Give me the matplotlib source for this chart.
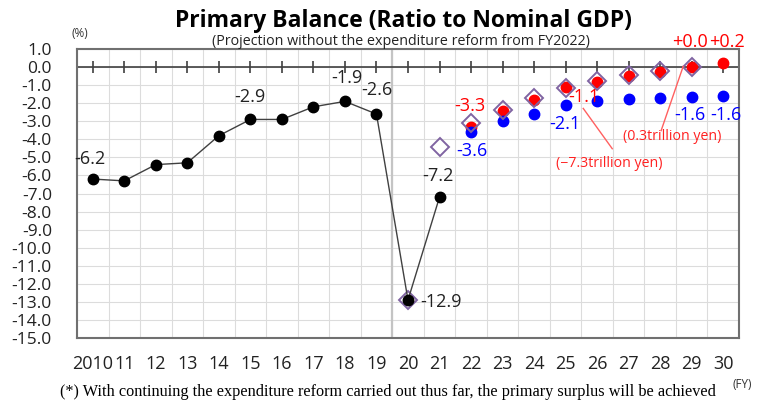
import matplotlib
matplotlib.use("Agg")
import matplotlib.pyplot as plt

plt.rcParams['font.family'] = ['Open Sans', 'DejaVu Sans']

# actual results FY2010-2021
years_act = [2010, 2011, 2012, 2013, 2014, 2015, 2016, 2017, 2018, 2019, 2020, 2021]
pb_act = [-6.2, -6.3, -5.4, -5.3, -3.8, -2.9, -2.9, -2.2, -1.9, -2.6, -12.9, -7.2]

# projection with previous estimate (hollow diamonds)
years_dia = [2020, 2021, 2022, 2023, 2024, 2025, 2026, 2027, 2028, 2029]
pb_dia = [-12.9, -4.4, -3.1, -2.4, -1.7, -1.15, -0.75, -0.45, -0.2, 0.0]

# projection, growth achieved scenario (red)
years_red = [2022, 2023, 2024, 2025, 2026, 2027, 2028, 2029, 2030]
pb_red = [-3.3, -2.45, -1.8, -1.1, -0.8, -0.5, -0.25, 0.0, 0.2]

# projection, baseline scenario (blue)
years_blue = [2022, 2023, 2024, 2025, 2026, 2027, 2028, 2029, 2030]
pb_blue = [-3.6, -3.0, -2.6, -2.1, -1.9, -1.75, -1.7, -1.65, -1.6]

year_labels = ["2010"] + [str(y % 100) for y in range(2011, 2031)]
yticks = list(range(1, -16, -1))

fig = plt.figure(figsize=(7.57, 4.05), dpi=100)
ax = fig.add_axes([0.1017, 0.1654, 0.8745, 0.7136])

ax.set_xlim(2009.5, 2030.5)
ax.set_ylim(-15, 1)

# grid
for y in yticks:
    ax.axhline(y, color='#dcdcdc', lw=0.8, zorder=0)
for x in range(2010, 2031):
    ax.axvline(x - 0.5, color='#dcdcdc', lw=0.8, zorder=0)
ax.axvline(2019.5, color='#c4c4c4', lw=1.6, zorder=0.5)

# zero line with year ticks
ax.axhline(0, color='#404040', lw=1.2, zorder=1)
ax.plot(range(2010, 2031), [0] * 21, ls='none', marker='|', ms=8,
        mew=1.2, color='#404040', zorder=1)

for s in ax.spines.values():
    s.set_color('#707070')
    s.set_linewidth(1.5)

ax.set_yticks(yticks)
ax.set_yticklabels(["%.1f" % v for v in yticks], fontsize=12.5, color='#222222')
ax.set_xticks(range(2010, 2031))
ax.set_xticklabels(year_labels, fontsize=13, color='#222222')
ax.get_xticklabels()[0].set_x(2009.8)
ax.tick_params(axis='y', length=0, pad=18)
ax.tick_params(axis='x', length=0, pad=12)

# series
ax.plot(years_act, pb_act, color='#404040', lw=1.0, marker='o', ms=7.5,
        mfc='black', mec='black', zorder=4)
ax.plot(years_red, pb_red, ls='none', marker='o', ms=7.5, color='#ff0000', zorder=3)
ax.plot(years_blue, pb_blue, ls='none', marker='o', ms=7.5, color='#0000ff', zorder=3)
ax.plot(years_dia, pb_dia, ls='none', marker='D', ms=9, mfc='none',
        mec='#8064a2', mew=1.4, zorder=3.5)

# value labels
lab = dict(fontsize=13, ha='center', va='center', clip_on=False, zorder=6)
ax.text(2009.9, -5.07, "-6.2", color='#222222', **lab)
ax.text(2014.98, -1.68, "-2.9", color='#222222', **lab)
ax.text(2018.06, -0.63, "-1.9", color='#222222', **lab)
ax.text(2019.0, -1.29, "-2.6", color='#222222', **lab)
ax.text(2020.95, -6.02, "-7.2", color='#222222', **lab)
ax.text(2020.4, -13.0, "-12.9", color='#222222', fontsize=13, ha='left',
        va='center')
ax.text(2021.97, -2.13, "-3.3", color='#ff0000', **lab)
ax.text(2025.59, -1.68, "-1.1", color='#ff0000', **lab)
ax.text(2028.95, 1.37, "+0.0", color='#ff0000', **lab)
ax.text(2030.13, 1.37, "+0.2", color='#ff0000', **lab)
ax.text(2022.03, -4.63, "-3.6", color='#0000ff', **lab)
ax.text(2024.98, -3.13, "-2.1", color='#0000ff', **lab)
ax.text(2028.95, -2.68, "-1.6", color='#0000ff', **lab)
ax.text(2030.1, -2.68, "-1.6", color='#0000ff', **lab)

# trillion yen callouts
ax.plot([2025.56, 2026.48], [-2.29, -4.52], color='#ff6060', lw=1.0, zorder=5)
ax.plot([2028.73, 2028.03], [0.04, -3.52], color='#ff6060', lw=1.0, zorder=5)
ax.text(2026.38, -5.36, "(\u22127.3trillion yen)", fontsize=10.2, color='#ff2020',
        ha='center', va='center')
ax.text(2028.38, -3.85, "(0.3trillion yen)", fontsize=10.2, color='#ff2020',
        ha='center', va='center')

# titles and notes
fig.text(0.533, 0.948, "Primary Balance (Ratio to Nominal GDP)", fontsize=16.5,
         fontweight='bold', ha='center', va='center')
fig.text(0.53, 0.897, "(Projection without the expenditure reform from FY2022)",
         fontsize=10.3, ha='center', va='center', color='#222222')
fig.text(0.106, 0.917, "(%)", fontsize=8.5, ha='center', va='center', color='#333333')
fig.text(0.512, 0.032, "(*) With continuing the expenditure reform carried out thus far, "
         "the primary surplus will be achieved", fontsize=11.7, ha='center',
         va='center', family='Liberation Serif')
fig.text(0.98, 0.05, "(FY)", fontsize=8.5, ha='center', va='center', color='#333333')

fig.savefig("out.png", dpi=100)
